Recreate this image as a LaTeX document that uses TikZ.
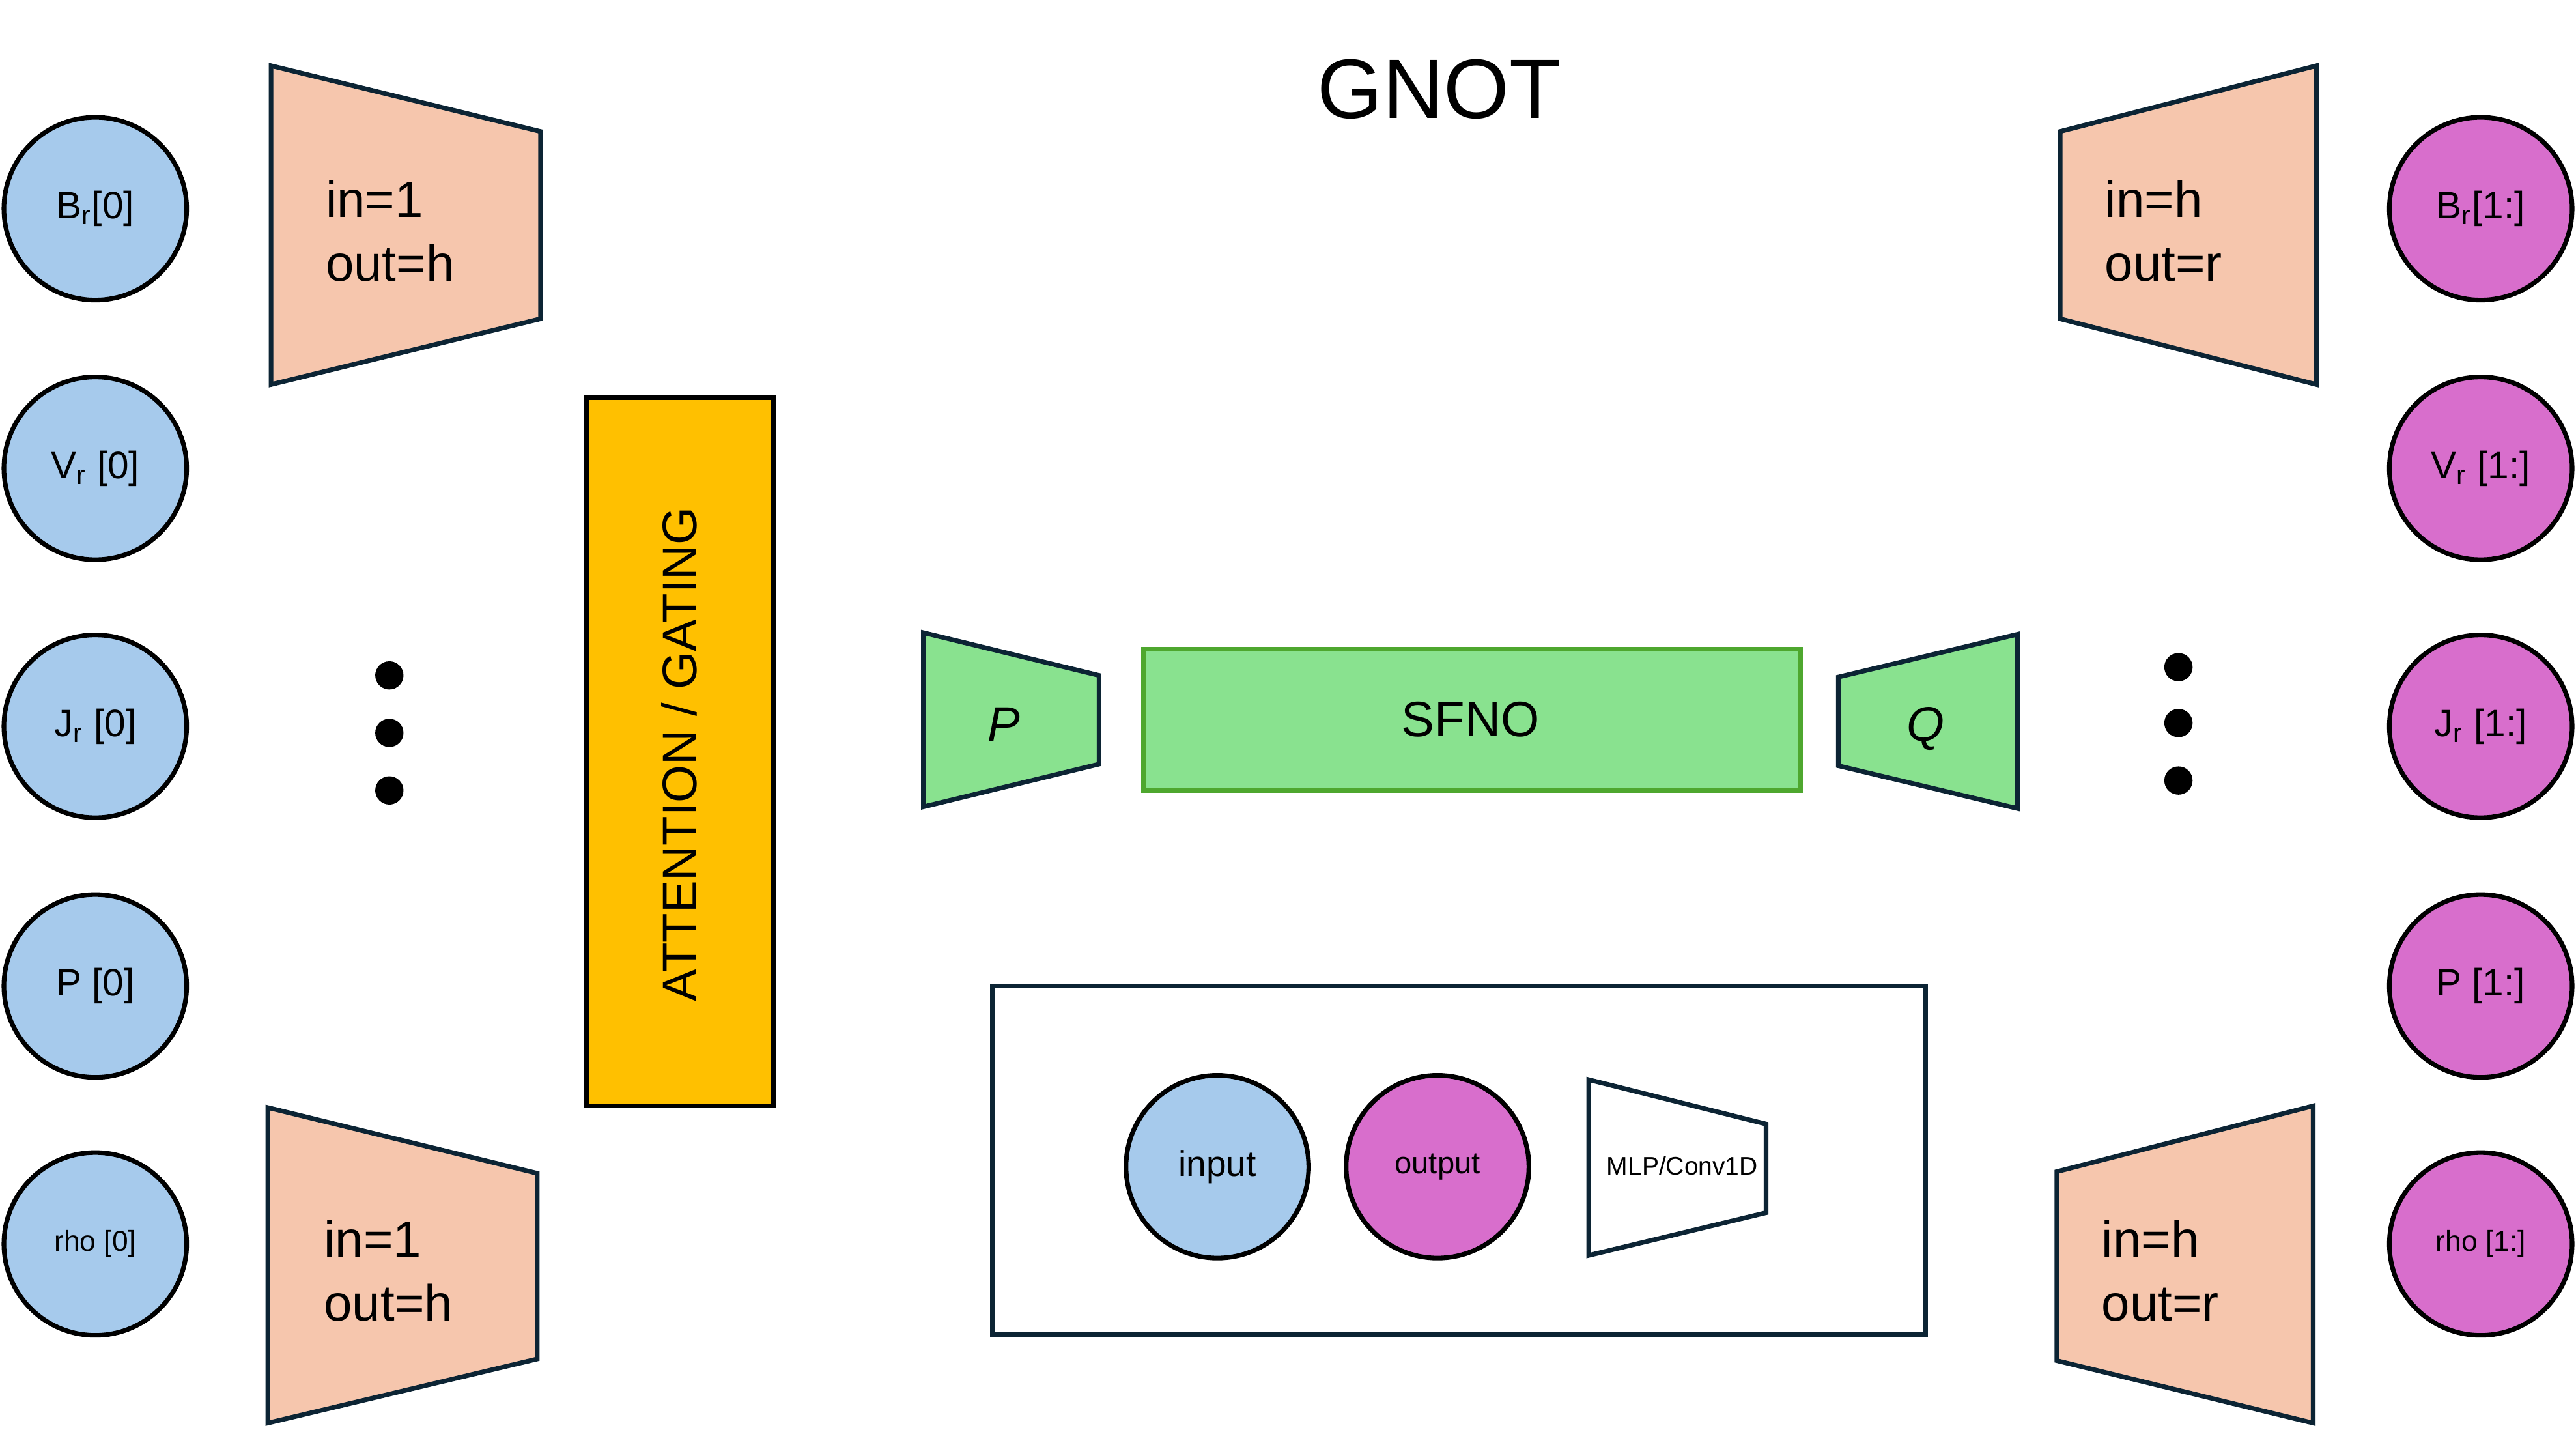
\documentclass[tikz,border=0pt]{standalone}
\usepackage{fontspec}
\setmainfont{Liberation Sans}
\definecolor{inblue}{HTML}{A6CAEC}
\definecolor{outpink}{HTML}{D86ECC}
\definecolor{peach}{HTML}{F6C6AD}
\definecolor{navy}{HTML}{0C2434}
\definecolor{gold}{HTML}{FFC000}
\definecolor{mint}{HTML}{89E28F}
\definecolor{leaf}{HTML}{4EA72E}
\begin{document}
\begin{tikzpicture}[x=0.025cm,y=-0.025cm,
  var/.style={draw=black,line width=2pt,circle,minimum size=2.78cm,inner sep=0pt,font=\fontsize{16.5}{19}\selectfont},
  invar/.style={var,fill=inblue},
  outvar/.style={var,fill=outpink},
  small/.style={font=\fontsize{12.5}{14}\selectfont},
  lift/.style={draw=navy,line width=2pt,fill=peach},
  proj/.style={draw=navy,line width=2pt,fill=mint},
  dims/.style={anchor=base west,align=left,inner sep=0pt,font=\fontsize{22}{27.7}\selectfont},
  bigdot/.style={circle,fill=black,minimum size=0.43cm,inner sep=0pt}]
\useasboundingbox (0,0) rectangle (1568,870);

\node[font=\fontsize{36.5}{40}\selectfont,anchor=base,inner sep=0pt] (title) at (876,72) {GNOT};

% inputs
\node[invar] (Br0) at (58,127) {B\textsubscript{r}[0]};
\node[invar] (Vr0) at (58,285) {V\textsubscript{r} [0]};
\node[invar] (Jr0) at (58,442) {J\textsubscript{r} [0]};
\node[invar] (P0) at (58,600) {P [0]};
\node[invar,small] (rho0) at (58,757) {rho [0]};

% outputs
\node[outvar] (Br1) at (1510,127) {B\textsubscript{r}[1:]};
\node[outvar] (Vr1) at (1510,285) {V\textsubscript{r} [1:]};
\node[outvar] (Jr1) at (1510,442) {J\textsubscript{r} [1:]};
\node[outvar] (P1) at (1510,600) {P [1:]};
\node[outvar,small] (rho1) at (1510,757) {rho [1:]};

% lifting and decoding layers
\path[lift] (165,40) -- (329,80) -- (329,194) -- (165,234) -- cycle;
\node[dims] (liftB) at (198,171) {in=1\\out=h};
\path[lift] (163,674) -- (327,714) -- (327,827) -- (163,866) -- cycle;
\node[dims] (liftrho) at (197,804) {in=1\\out=h};
\path[lift] (1254,80) -- (1410,40) -- (1410,234) -- (1254,194) -- cycle;
\node[dims] (decB) at (1281,171) {in=h\\out=r};
\path[lift] (1252,713) -- (1408,673) -- (1408,866) -- (1252,828) -- cycle;
\node[dims] (decrho) at (1279,804) {in=h\\out=r};

\node[bigdot] (dotL1) at (237,411) {};
\node[bigdot] (dotL2) at (237,446) {};
\node[bigdot] (dotL3) at (237,481) {};
\node[bigdot] (dotR1) at (1326,406) {};
\node[bigdot] (dotR2) at (1326,440) {};
\node[bigdot] (dotR3) at (1326,475) {};

% mixing block
\path[draw=black,line width=2pt,fill=gold] (357,242) rectangle (471,673);
\node[rotate=90,anchor=base,inner sep=0pt,font=\fontsize{21}{24}\selectfont] (attn) at (424,459) {ATTENTION / GATING};

% operator
\path[proj] (562,385) -- (669,411) -- (669,465) -- (562,491) -- cycle;
\node[anchor=base,inner sep=0pt,font=\fontsize{21}{24}\selectfont\itshape] (Pop) at (611,451) {P};
\path[draw=leaf,line width=2pt,fill=mint] (696,395) rectangle (1096,481);
\node[anchor=base,inner sep=0pt,font=\fontsize{21.5}{24}\selectfont] (sfno) at (895,448) {SFNO};
\path[proj] (1119,412) -- (1228,386) -- (1228,492) -- (1119,466) -- cycle;
\node[anchor=base,inner sep=0pt,font=\fontsize{21}{24}\selectfont\itshape] (Qop) at (1172,451) {Q};

% legend
\path[draw=navy,line width=2pt,fill=white] (604,600) rectangle (1172,812);
\node[invar,font=\fontsize{15.5}{18}\selectfont] (keyin) at (741,710) {input};
\node[outvar,font=\fontsize{13.3}{16}\selectfont] (keyout) at (875,710) {output};
\path[draw=navy,line width=2pt,fill=white] (967,657) -- (1075,684) -- (1075,738) -- (967,764) -- cycle;
\node[anchor=base,inner sep=0pt,font=\fontsize{11}{13}\selectfont] (keymlp) at (1024,715) {MLP/Conv1D};
\end{tikzpicture}
\end{document}
